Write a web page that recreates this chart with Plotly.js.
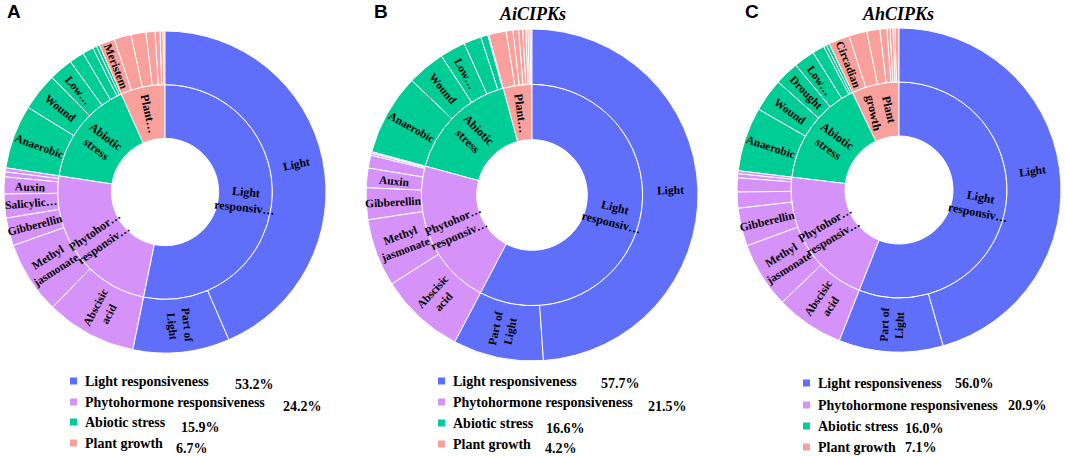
<!DOCTYPE html>
<html><head><meta charset="utf-8">
<script src="https://cdn.plot.ly/plotly-3.0.1.min.js"></script>
<style>html,body{margin:0;padding:0;background:#fff}</style>
</head><body><div id="chart" style="width:1065px;height:456px"></div>
<script>
// ---- data (clockwise reading order from 12 o'clock) ----
const groups = ['Light responsiveness','Phytohormone responsiveness','Abiotic stress','Plant growth'];
const groupColors = ['#5F6FFA','#D592F9','#00CC96','#F9A09C'];

const innerTextA = ['Light<br>responsiv…','Phytohor…<br>responsiv…','Abiotic<br>stress','Plant…'];
const childTextA = [
  ['Light','Part of<br>Light'],
  ['Abscisic<br>acid','Methyl<br>jasmonate','Gibberellin','Salicylic…','Auxin','',''],
  ['Anaerobic','Wound','Low…','','','',''],
  ['Meristem','','','','','','']
];
const childValA = [
  [43.5,9.7],
  [9.1,7.3,2.8,2.4,1.7,0.5,0.4],
  [6.4,3.8,2.4,1.5,1.1,0.4,0.3],
  [1.6,1.7,1.5,0.9,0.5,0.3,0.2]
];
const pctA = ['53.2%','24.2%','15.9%','6.7%'];

const innerTextB = ['Light<br>responsiv…','Phytohor…<br>responsiv…','Abiotic<br>stress','Plant…'];
const childTextB = [
  ['Light','Part of<br>Light'],
  ['Abscisic<br>acid','Methyl<br>jasmonate','Gibberellin','Auxin','','',''],
  ['Anaerobic','Wound','Low…','','',''],
  ['','','','','','','','']
];
const childValB = [
  [48.9,8.8],
  [8.3,6.6,3.1,1.9,1.25,0.2,0.15],
  [7.9,3.7,2.5,1.7,0.7,0.1],
  [1.7,0.65,0.55,0.4,0.3,0.2,0.2,0.2]
];
const pctB = ['57.7%','21.5%','16.6%','4.2%'];

const innerTextC = ['Light<br>responsiv…','Phytohor…<br>responsiv…','Abiotic<br>stress','Plant<br>growth'];
const childTextC = [
  ['Light','Part of<br>Light'],
  ['Abscisic<br>acid','Methyl<br>jasmonate','Gibberellin','','','',''],
  ['Anaerobic','Wound','Drought','Low…','','',''],
  ['Circadian','','','','','','','']
];
const childValC = [
  [45.6,10.4],
  [6.8,6.6,3.8,1.6,1.4,0.4,0.3],
  [6.4,3.3,2.4,2.1,1.2,0.3,0.3],
  [2.1,1.8,1.3,0.7,0.3,0.3,0.2,0.4]
];
const pctC = ['56.0%','20.9%','16.0%','7.1%'];

const titles = ['', 'AiCIPKs', 'AhCIPKs'];
const panelLetters = ['A','B','C'];

// ---- layout helpers ----
const W = 1065, H = 456;
const px = x => x / W, py = y => 1 - y / H;
const annotations = [], shapes = [];
const labelFont = s => ({ family: 'Liberation Serif', size: s, color: '#000', weight: 'bold' });

function radialAngle(theta) { return theta < 180 ? theta - 90 : theta - 270; }

function addLabels(innerText, childText, childVal, box) {
  const cx = (box[0] + box[1]) / 2, cy = (box[2] + box[3]) / 2;
  const R = Math.min(box[1] - box[0], box[3] - box[2]) / 2;
  const total = childVal.flat().reduce((a, b) => a + b, 0);
  let acc = 0;
  const put = (t, theta, r, size) => {
    if (!t) return;
    const a = theta * Math.PI / 180;
    annotations.push({ xref: 'paper', yref: 'paper', x: px(cx + r * Math.sin(a)), y: py(cy - r * Math.cos(a)),
      xanchor: 'center', yanchor: 'middle', text: t, showarrow: false, textangle: radialAngle(theta),
      font: labelFont(size) });
  };
  childVal.forEach((vals, gi) => {
    const gStart = acc;
    vals.forEach((v, ci) => {
      const mid = (acc + v / 2) / total * 360;
      put(childText[gi][ci], mid, R * 5 / 6, 11.5);
      acc += v;
    });
    put(innerText[gi], (gStart + acc) / 2 / total * 360, R / 2, 12);
  });
}

function makeTrace(name, innerText, childText, childVal, box) {
  const ids = [name], labels = [name], parents = [''], values = [0], colors = ['rgba(255,255,255,0)'];
  // plotly sunburst runs counterclockwise: reverse order so it reads clockwise
  for (let gi = groups.length - 1; gi >= 0; gi--) {
    const gid = name + '|' + groups[gi];
    ids.push(gid); labels.push(groups[gi]); parents.push(name); values.push(0); colors.push(groupColors[gi]);
    for (let ci = childVal[gi].length - 1; ci >= 0; ci--) {
      ids.push(gid + '|' + ci);
      labels.push(childText[gi][ci] ? childText[gi][ci].replace('<br>', ' ') : groups[gi] + ' ' + (ci + 1));
      parents.push(gid); values.push(childVal[gi][ci]); colors.push(groupColors[gi]);
    }
  }
  addLabels(innerText, childText, childVal, box);
  return {
    type: 'sunburst', ids, labels, parents, values,
    branchvalues: 'remainder', sort: false, rotation: 90,
    textinfo: 'none', hoverinfo: 'skip',
    leaf: { opacity: 1 },
    marker: { colors, line: { color: '#ffffff', width: 1 } },
    domain: { x: [px(box[0]), px(box[1])], y: [py(box[3]), py(box[2])] }
  };
}

const data = [
  makeTrace('A', innerTextA, childTextA, childValA, [4, 326, 31, 353]),
  makeTrace('B', innerTextB, childTextB, childValB, [366, 698, 29, 361]),
  makeTrace('C', innerTextC, childTextC, childValC, [737, 1061, 28, 352])
];

// legend (drawn as annotations + shapes)
const legendSpec = [
  { sq: 70, tx: 83, rows: [381, 402, 422, 443], pctX: [233, 281, 179, 174], pctY: [384, 406, 427, 448], pct: pctA },
  { sq: 438, tx: 451, rows: [381, 402, 423, 444], pctX: [599, 646, 544, 543], pctY: [383, 406, 428, 448], pct: pctB },
  { sq: 803, tx: 816, rows: [383, 405, 426, 447], pctX: [953, 1006, 903, 903], pctY: [383, 405, 428, 447], pct: pctC }
];
const lf = labelFont(14);
legendSpec.forEach(L => {
  groups.forEach((g, i) => {
    shapes.push({ type: 'rect', xref: 'paper', yref: 'paper', x0: px(L.sq), x1: px(L.sq + 7),
      y0: py(L.rows[i] + 3.5), y1: py(L.rows[i] - 3.5), fillcolor: groupColors[i], line: { width: 0 } });
    annotations.push({ xref: 'paper', yref: 'paper', x: px(L.tx), y: py(L.rows[i]), xanchor: 'left', yanchor: 'middle',
      text: g, showarrow: false, font: lf });
    annotations.push({ xref: 'paper', yref: 'paper', x: px(L.pctX[i]), y: py(L.pctY[i]), xanchor: 'left', yanchor: 'middle',
      text: L.pct[i], showarrow: false, font: lf });
  });
});
const letterX = [5, 372, 743];
panelLetters.forEach((t, i) => annotations.push({ xref: 'paper', yref: 'paper', x: px(letterX[i]), y: py(11), xanchor: 'left', yanchor: 'middle',
  text: t, showarrow: false, font: { family: 'Liberation Sans', size: 19, color: '#000', weight: 'bold' } }));
const titleX = [165, 532, 898];
titles.forEach((t, i) => { if (t) annotations.push({ xref: 'paper', yref: 'paper', x: px(titleX[i]), y: py(14), xanchor: 'center', yanchor: 'middle',
  text: t, showarrow: false, font: { family: 'Liberation Serif', size: 18, color: '#000', weight: 'bold', style: 'italic' } }); });

Plotly.newPlot('chart', data, {
  width: W, height: H, margin: { l: 0, r: 0, t: 0, b: 0 },
  paper_bgcolor: '#fff', showlegend: false, annotations, shapes
}, { displayModeBar: false, staticPlot: true });
</script></body></html>
